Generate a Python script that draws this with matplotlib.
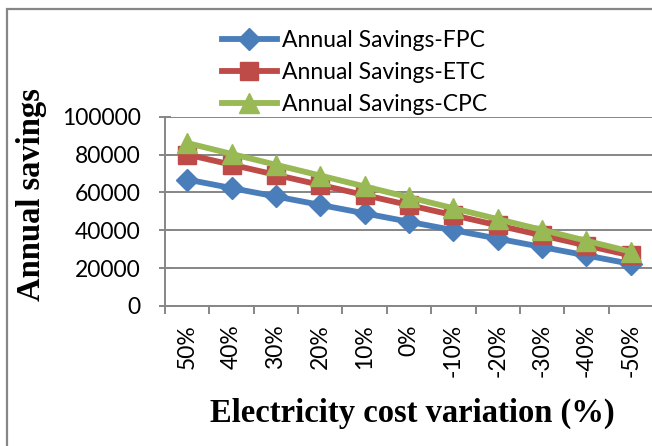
import matplotlib
matplotlib.use('Agg')
import matplotlib.pyplot as plt
from matplotlib.patches import Rectangle
from matplotlib.ticker import FixedLocator

# data
categories = ['50%', '40%', '30%', '20%', '10%', '0%', '-10%', '-20%', '-30%', '-40%', '-50%']
savings_fpc = [66800, 62300, 57850, 53400, 48950, 44500, 40050, 35600, 31150, 26700, 22250]
savings_etc = [80000, 74650, 69300, 63950, 58600, 53300, 47950, 42600, 37300, 31950, 26700]
savings_cpc = [86100, 80350, 74600, 68900, 63150, 57400, 51650, 45900, 40200, 34450, 28700]
y_ticks = [0, 20000, 40000, 60000, 80000, 100000]

W, H = 652, 446
fig = plt.figure(figsize=(W / 100, H / 100), dpi=100)

# outer chart border (runs off the right/bottom edges like the source crop)
fig.patches.append(Rectangle((7 / W, -0.1), 1.2, 1.1 - 9 / H, transform=fig.transFigure,
                             fill=False, edgecolor='#868686', linewidth=1.6))

ax = fig.add_axes([165 / W, 1 - 306 / H, 488 / W, (306 - 116.7) / H])

x = list(range(len(categories)))
ax.plot(x, savings_fpc, color='#4A7EBB', lw=4.2, marker='D', ms=11,
        mec='#4A7EBB', label='Annual Savings-FPC', zorder=3)
ax.plot(x, savings_etc, color='#BE4B48', lw=4.2, marker='s', ms=13,
        mec='#BE4B48', label='Annual Savings-ETC', zorder=4)
ax.plot(x, savings_cpc, color='#98B954', lw=4.2, marker='^', ms=14,
        mec='#98B954', label='Annual Savings-CPC', zorder=5)

ax.set_xlim(-0.5, len(categories) - 0.5)
ax.set_ylim(0, 100000)
ax.set_yticks(y_ticks)
ax.set_yticklabels([str(v) for v in y_ticks], fontsize=16.5, family='Lato')
ax.yaxis.grid(True, color='#868686', lw=1.4)
ax.set_axisbelow(True)

ax.set_xticks(x)
ax.set_xticklabels(categories, rotation=90, fontsize=16.5, family='Lato', va='top')
ax.xaxis.set_minor_locator(FixedLocator([i - 0.5 for i in range(len(categories) + 1)]))
ax.tick_params(axis='x', which='major', length=0, pad=13)
ax.tick_params(axis='x', which='minor', length=6, width=1.4, color='#868686')
ax.tick_params(axis='y', direction='inout', length=9, width=1.4, color='#868686', pad=13)

for s in ['top', 'right']:
    ax.spines[s].set_visible(False)
for s in ['left', 'bottom']:
    ax.spines[s].set_color('#868686')
    ax.spines[s].set_linewidth(1.4)

fig.text(32 / W, 1 - 195 / H, 'Annual savings', rotation=90, ha='center', va='center',
         fontsize=23.5, fontweight='bold', family='Liberation Serif')
fig.text(412 / W, 1 - 413 / H, 'Electricity cost variation (%)', ha='center', va='center',
         fontsize=23.5, fontweight='bold', family='Liberation Serif')

fig.legend(loc='upper left', bbox_to_anchor=(222 / W, 1 - 30 / H), frameon=False,
           prop={'family': 'Lato', 'size': 16.5}, handlelength=2.4, handletextpad=0.2,
           labelspacing=0.47, borderpad=0, borderaxespad=0)

fig.savefig('out.png', dpi=100)
